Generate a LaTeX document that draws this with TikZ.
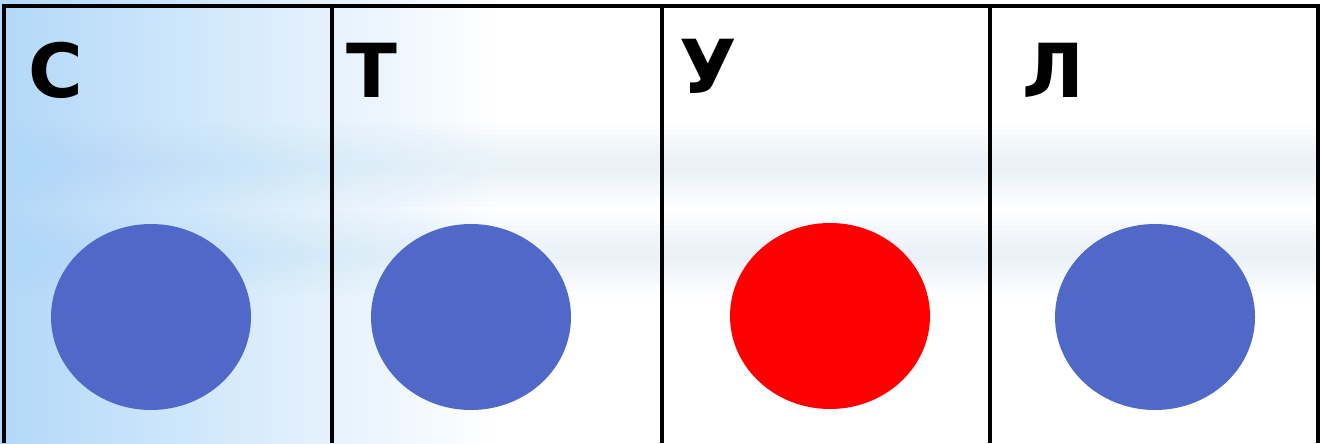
\documentclass[tikz,border=0pt]{standalone}
\usepackage{fontspec}
\setmainfont{DejaVu Sans}
\usepackage{xcolor}
\usepackage{tikz}
\usetikzlibrary{
  positioning,
  shapes.geometric,
  calc,
  backgrounds
}
\definecolor{SkyBlue}{HTML}{B2D8F8}
\definecolor{DotBlue}{HTML}{5068C8}
\definecolor{DotRed}{HTML}{FF0000}

\tikzset{
  letter/.style={anchor=base west,inner sep=0pt,font=\fontsize{53}{53}\selectfont\bfseries},
  dot/.style={ellipse,minimum width=50mm,minimum height=46.5mm,inner sep=0pt},
  grid/.style={line width=2.2,black},
  haze/.style={fill=SkyBlue,opacity=0.035}
}

\begin{document}
\begin{tikzpicture}[x=0.25mm,y=-0.25mm]
        % background
        \useasboundingbox (0,0) rectangle (1320,443);
        \fill[white] (0,0) rectangle (1320,443);
        \shade[left color=SkyBlue,right color=white] (0,0) rectangle (500,443);
        % soft horizontal streaks
        \foreach \hh in {6,12,...,42}{
          \fill[haze] (0,165-\hh) rectangle (1320,165+\hh);
          \fill[haze] (0,255-\hh) rectangle (1320,255+\hh);
        }

        % panels
        \draw[grid] (4,443) -- (4,6) -- (1318,6) -- (1318,443);
        \foreach \xx in {332,662,990}
          \draw[grid] (\xx,6) -- (\xx,443);

        % letters
        \node[letter] (es) at (28,97) {С};
        \node[letter] (te) at (346,97) {Т};
        \node[letter] (u) at (679,93) {У};
        \node[letter] (el) at (1022,97) {Л};

        % dots
        \node[dot,fill=DotBlue] (dotS) at (151,317) {};
        \node[dot,fill=DotBlue] (dotT) at (471,317) {};
        \node[dot,fill=DotRed] (dotU) at (830,316) {};
        \node[dot,fill=DotBlue] (dotL) at (1155,317) {};
      \end{tikzpicture}
\end{document}
